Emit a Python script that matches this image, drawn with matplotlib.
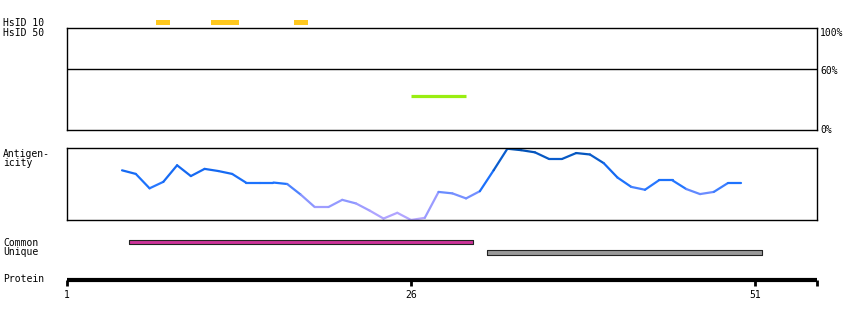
import numpy as np
import matplotlib
matplotlib.use('Agg')
import matplotlib.pyplot as plt
from matplotlib.collections import LineCollection
from matplotlib.colors import LinearSegmentedColormap

W, H = 850, 320
plt.rcParams['font.family'] = 'DejaVu Sans Mono'
plt.rcParams['font.size'] = 7

# residue range of the protein track
seq_start, seq_end = 1, 55.5
protein_ticks = [1, 26, 51]

# HsID 10 hits (start, end residue)
hsid10_start = [7.5, 11.5, 17.5]
hsid10_end = [8.5, 13.5, 18.5]
# HsID 50 hit
hsid50_start = [26]
hsid50_end = [30]
hsid50_pct = [33]
hsid_ref_line = 60

# antigenicity profile
antig_res = list(range(5, 51))
antig_val = [0.69, 0.64, 0.44, 0.53, 0.76, 0.61, 0.71, 0.68, 0.64, 0.52,
             0.52, 0.52, 0.50, 0.35, 0.18, 0.18, 0.28, 0.23, 0.13, 0.02,
             0.10, 0.00, 0.03, 0.39, 0.37, 0.30, 0.40, 0.69, 0.99, 0.97,
             0.94, 0.85, 0.85, 0.93, 0.91, 0.79, 0.59, 0.46, 0.42, 0.55,
             0.55, 0.43, 0.36, 0.39, 0.51, 0.51]

# common / unique regions
common_start, common_end = 5.5, 30.5
unique_start, unique_end = 31.5, 51.5


def px_axes(fig, left, top, right, bottom):
    return fig.add_axes([left / W, 1 - bottom / H, (right - left) / W, (bottom - top) / H])


def label(fig, x, y, s, **kw):
    fig.text(x / W, 1 - y / H, s, va='baseline', **kw)


fig = plt.figure(figsize=(W / 100, H / 100), dpi=100)

# HsID 10 strip
ax10 = px_axes(fig, 67, 19.5, 817, 24.5)
ax10.set_xlim(seq_start, seq_end)
ax10.set_ylim(0, 1)
for s, e in zip(hsid10_start, hsid10_end):
    ax10.broken_barh([(s, e - s)], (0, 1), facecolor='#FFC81E', edgecolor='none')
ax10.axis('off')

# HsID 50 panel
ax50 = px_axes(fig, 67, 28, 817, 130)
ax50.set_xlim(seq_start, seq_end)
ax50.set_ylim(0, 100)
ax50.axhline(hsid_ref_line, color='black', lw=1)
ax50.hlines(hsid50_pct, hsid50_start, hsid50_end, color='#99EE11', lw=2.3)
ax50.set_xticks([])
ax50.set_yticks([])
for sp in ax50.spines.values():
    sp.set_linewidth(1)

# antigenicity panel
axa = px_axes(fig, 67, 148, 817, 220)
axa.set_xlim(seq_start, seq_end)
axa.set_ylim(0, 1)
pts = np.column_stack([antig_res, antig_val])
segs = np.stack([pts[:-1], pts[1:]], axis=1)
mid = (np.array(antig_val[:-1]) + np.array(antig_val[1:])) / 2
cmap = LinearSegmentedColormap.from_list('antig', [
    (0.0, '#B8A8FF'), (0.2, '#9C9CFF'), (0.38, '#6A8CFF'), (0.5, '#1E74FF'),
    (0.7, '#1468F0'), (0.85, '#0A5CCC'), (1.0, '#0050B0')])
lc = LineCollection(segs, colors=cmap(mid), linewidths=1.6, capstyle='round')
axa.add_collection(lc)
axa.set_xticks([])
axa.set_yticks([])
for sp in axa.spines.values():
    sp.set_linewidth(1)

# common / unique
axc = px_axes(fig, 67, 236, 817, 258)
axc.set_xlim(seq_start, seq_end)
axc.set_ylim(258, 236)
axc.broken_barh([(common_start, common_end - common_start)], (240, 4.5),
                facecolor='#CC3399', edgecolor='#222222', lw=0.8)
axc.broken_barh([(unique_start, unique_end - unique_start)], (250.5, 4.5),
                facecolor='#999999', edgecolor='#222222', lw=0.8)
axc.axis('off')

# protein axis
axp = px_axes(fig, 67, 270, 817, 280)
axp.set_xlim(seq_start, seq_end)
for k in ['top', 'left', 'right']:
    axp.spines[k].set_visible(False)
axp.spines['bottom'].set_linewidth(3)
axp.spines['bottom'].set_capstyle('butt')
axp.set_yticks([])
axp.set_xticks(protein_ticks + [seq_end])
axp.set_xticklabels([str(t) for t in protein_ticks] + [''])
axp.tick_params(axis='x', length=4, width=2, pad=3, labelsize=7)
axp.patch.set_visible(False)

# left labels
label(fig, 3, 26, 'HsID 10')
label(fig, 3, 36.5, 'HsID 50')
label(fig, 3, 157, 'Antigen-')
label(fig, 3, 165.5, 'icity')
label(fig, 3, 246, 'Common')
label(fig, 3, 255, 'Unique')
label(fig, 3, 282, 'Protein')

# right percent labels
label(fig, 820, 36, '100%')
label(fig, 820, 74, '60%')
label(fig, 820, 133, '0%')

fig.savefig('out.png', dpi=100)
